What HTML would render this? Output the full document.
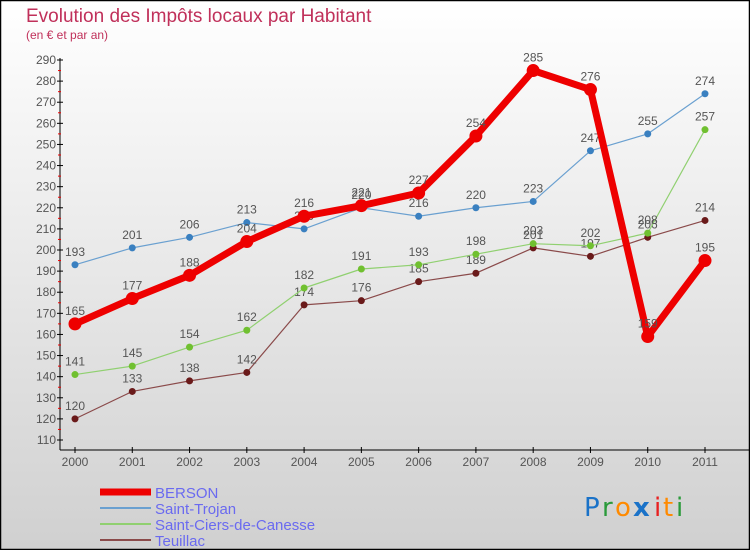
<!DOCTYPE html>
<html><head><meta charset="utf-8"><style>
body{margin:0;width:750px;height:550px;overflow:hidden}
svg{display:block;font-family:"Liberation Sans",sans-serif}
</style></head><body>
<svg id="c" width="750" height="550">
<defs><linearGradient id="bg" x1="0" y1="0" x2="0" y2="1"><stop offset="0" stop-color="#ffffff"/><stop offset="1" stop-color="#d0d0d0"/></linearGradient></defs>
<rect x="0.5" y="0.5" width="749" height="549" fill="url(#bg)" stroke="#000" stroke-width="1.5"/>
<text x="26" y="22" font-size="19" fill="#c0305a">Evolution des Impôts locaux par Habitant</text>
<text x="26" y="39" font-size="12" fill="#c0305a">(en € et par an)</text>
<g id="axes"></g><g id="series"></g><g id="legend"></g>
<g font-size="26" font-family="'DejaVu Sans',sans-serif">
<text x="584" y="516" fill="#1a72c8">P</text><text x="602" y="516" fill="#2a9a3a">r</text><text x="615" y="516" fill="#ff8a00">o</text><text x="633" y="516" fill="#1a72c8" font-weight="bold">x</text><text x="654" y="516" fill="#e82020">i</text><text x="663" y="516" fill="#ff8a00">t</text><text x="676" y="516" fill="#2a9a3a">i</text>
</g>
</svg>
<script>
const years=[2000,2001,2002,2003,2004,2005,2006,2007,2008,2009,2010,2011];
const berson=[165,177,188,204,216,221,227,254,285,276,159,195];
const saintTrojan=[193,201,206,213,210,220,216,220,223,247,255,274];
const saintCiers=[141,145,154,162,182,191,193,198,203,202,208,257];
const teuillac=[120,133,138,142,174,176,185,189,201,197,206,214];
const yTicks=[110,120,130,140,150,160,170,180,190,200,210,220,230,240,250,260,270,280,290];
const NS="http://www.w3.org/2000/svg";
const xs=i=>75+i*(630/11);
const ys=v=>440-(v-110)*(380/180);
function mk(t,a,p){const e=document.createElementNS(NS,t);for(const k in a)e.setAttribute(k,a[k]);p.appendChild(e);return e;}
const ax=document.getElementById('axes');
let yl=mk('line',{x1:60,y1:58,x2:60,y2:450,stroke:'#000','stroke-width':1},ax);


let xl=mk('line',{x1:60,y1:450,x2:750,y2:450,stroke:'#000','stroke-width':1},ax);


yTicks.forEach((v,i)=>{
 mk('line',{x1:57,y1:ys(v),x2:63,y2:ys(v),stroke:'#000'},ax);
 if(i<yTicks.length-1)mk('line',{x1:58,y1:ys(v+5),x2:61,y2:ys(v+5),stroke:'#e00'},ax);
 const t=mk('text',{x:56,y:ys(v)+4,'font-size':12,fill:'#555','text-anchor':'end'},ax);t.textContent=v;
 
 
});
years.forEach((y,i)=>{
 mk('line',{x1:xs(i),y1:447,x2:xs(i),y2:453,stroke:'#000'},ax);
 const t=mk('text',{x:xs(i),y:466,'font-size':12,fill:'#555','text-anchor':'middle'},ax);t.textContent=y;
 
 
});
const sg=document.getElementById('series');
const series=[
 {n:'teuillac',d:teuillac,c:'#8a4a4a',dot:'#6a1a1a',w:1.2,r:3.5},
 {n:'saint-ciers-de-canesse',d:saintCiers,c:'#90d070',dot:'#70c030',w:1.2,r:3.5},
 {n:'saint-trojan',d:saintTrojan,c:'#6aa0d0',dot:'#3a80c0',w:1.2,r:3.5},
 {n:'berson',d:berson,c:'#ee0000',dot:'#ee0000',w:7,r:6.5}
];
series.forEach(s=>{
 const g=mk('g',{},sg);
 
 
 const p=mk('polyline',{points:s.d.map((v,i)=>xs(i)+','+ys(v)).join(' '),fill:'none',stroke:s.c,'stroke-width':s.w,'stroke-linejoin':'round'},g);
 
 
 s.d.forEach((v,i)=>{
  const c=mk('circle',{cx:xs(i),cy:ys(v),r:s.r,fill:s.dot},g);
  
  
  const t=mk('text',{x:xs(i),y:ys(v)-9,'font-size':12,fill:'#555','text-anchor':'middle'},g);t.textContent=v;
  
  
 });
});
const lg=document.getElementById('legend');
const items=[['BERSON','#ee0000',7],['Saint-Trojan','#6aa0d0',2],['Saint-Ciers-de-Canesse','#90d070',2],['Teuillac','#8a4a4a',2]];
items.forEach((it,i)=>{
 const y=492+i*16;
 const g=mk('g',{},lg);
 
 
 mk('line',{x1:100,y1:y,x2:151,y2:y,stroke:it[1],'stroke-width':it[2]},g);
 const t=mk('text',{x:155,y:y+6,'font-size':15,fill:'#6a6af0'},g);t.textContent=it[0];
});
</script>
</body></html>
